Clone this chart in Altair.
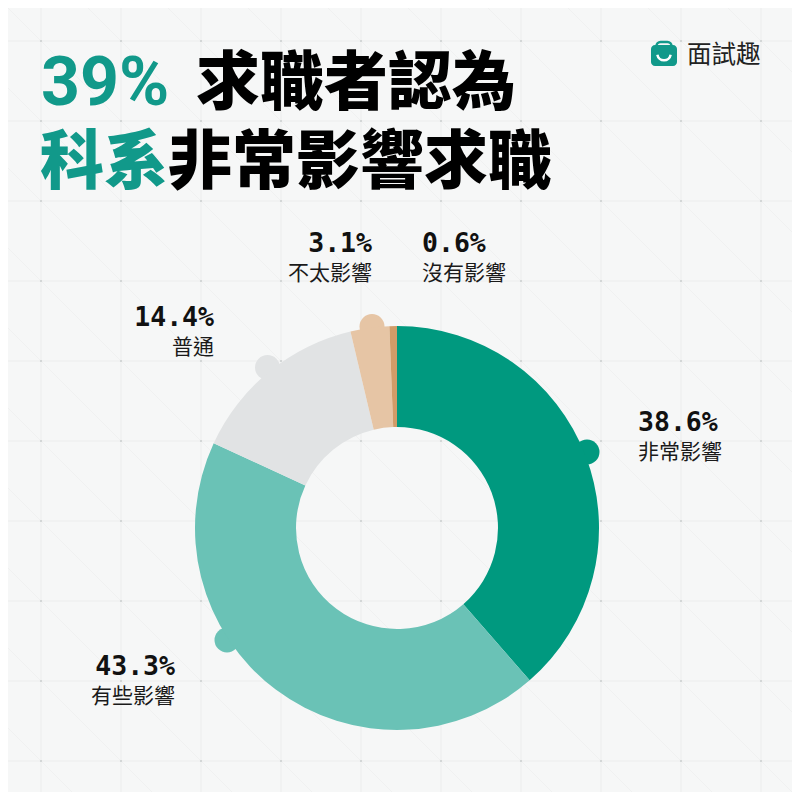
import altair as alt
import pandas as pd

categories = ["非常影響", "有些影響", "普通", "不太影響", "沒有影響"]
values = [38.6, 43.3, 14.4, 3.1, 0.6]
colors = ["#00997F", "#6AC2B6", "#E1E3E4", "#E6C5A5", "#D19C68"]
pct_labels = ["38.6%", "43.3%", "14.4%", "3.1%", "0.6%"]

knob_x = [587, 227, 267.5, 372]
knob_y = [452, 640, 367.5, 326.5]

pct_x = [638, 175, 214, 372, 422]
pct_y = [431, 675, 326, 252, 252]
cat_y = [459, 703, 354, 280, 280]
aligns = ["left", "right", "right", "right", "left"]

title_text = ["求職者認為", "科系", "非常影響求職"]
title_x = [196, 40, 168]
title_y = [104, 183, 183]
title_col = ["#000000", "#11998A", "#000000"]
head_text = ["39%"]
head_x = [41]
head_y = [105]

grid_pos = [41, 121, 201, 281, 361, 441, 521, 601, 681, 761]
diag_off = [-720, -640, -560, -480, -400, -320, -240, -160, -80, 0,
            80, 160, 240, 320, 400, 480, 560, 640, 720]

BG = "#F6F7F7"
SIZE = 784
dom = [8, 8 + SIZE]
X = lambda f: alt.X(f, type="quantitative", scale=alt.Scale(domain=dom, range=[0, SIZE]), axis=None)
Y = lambda f: alt.Y(f, type="quantitative", scale=alt.Scale(domain=dom, range=[0, SIZE]), axis=None)

grid = pd.DataFrame({"p": grid_pos})
vlines = alt.Chart(grid).mark_rule(color="#EFF0F0", strokeWidth=1.5, clip=True).encode(
    x=X("p"), y=alt.value(0), y2=alt.value(SIZE))
hlines = alt.Chart(grid).mark_rule(color="#EFF0F0", strokeWidth=1.5, clip=True).encode(
    y=Y("p"), x=alt.value(0), x2=alt.value(SIZE))

diag = pd.DataFrame({
    "x1": [max(0, -o) for o in diag_off],
    "y1": [max(0, o) for o in diag_off],
    "x2": [min(800, 800 - o) for o in diag_off],
    "y2": [min(800, 800 + o) for o in diag_off],
})
diags = alt.Chart(diag).mark_rule(color="#F0F1F1", strokeWidth=1, clip=True).encode(
    x=X("x1"), y=Y("y1"), x2="x2:Q", y2="y2:Q")

dots = pd.DataFrame([{"x": a, "y": b} for a in grid_pos for b in grid_pos])
dot_layer = alt.Chart(dots).mark_point(filled=True, color="#CDD0D0", size=5, opacity=1).encode(
    x=X("x"), y=Y("y"))

color = alt.Color("cat:N", scale=alt.Scale(domain=categories, range=colors), legend=None)

knobs = pd.DataFrame({"cat": categories[:4], "x": knob_x, "y": knob_y})
knob_layer = alt.Chart(knobs).mark_point(filled=True, size=625, opacity=1).encode(
    x=X("x"), y=Y("y"), color=color)

slices = pd.DataFrame({"cat": categories, "v": values, "o": range(5)})
donut = alt.Chart(slices).mark_arc(outerRadius=202, innerRadius=101).encode(
    theta=alt.Theta("v:Q", stack=True, scale=alt.Scale(domain=[0, 100], range=[0, 6.28318530718])),
    order=alt.Order("o:Q"),
    color=color,
    x=alt.value(389),
    y=alt.value(520),
)

labels = pd.DataFrame({"pct": pct_labels, "cat": categories, "x": pct_x, "y": pct_y,
                       "yc": cat_y, "al": aligns})
def text_layers(align):
    d = labels[labels.al == align]
    a = alt.Chart(d).mark_text(align=align, baseline="alphabetic", font="DejaVu Sans Mono",
                               fontWeight="bold", fontSize=26.5, color="#111111").encode(
        x=X("x"), y=Y("y"), text="pct:N")
    b = alt.Chart(d).mark_text(align=align, baseline="alphabetic", font="Noto Sans CJK TC",
                               fontSize=21, color="#1A1A1A").encode(
        x=X("x"), y=Y("yc"), text="cat:N")
    return [a, b]

titles = pd.DataFrame({"t": title_text, "x": title_x, "y": title_y, "c": title_col})
title_layer = alt.Chart(titles).mark_text(align="left", baseline="alphabetic",
        font="Noto Sans CJK TC", fontWeight=900, fontSize=64).encode(
    x=X("x"), y=Y("y"), text="t:N", color=alt.Color("c:N", scale=None))
head_layer = alt.Chart(pd.DataFrame({"t": head_text, "x": head_x, "y": head_y})).mark_text(
    align="left", baseline="alphabetic", font="Roboto", fontWeight=700, fontSize=68, color="#11998A").encode(
    x=X("x"), y=Y("y"), text="t:N")

logo_body = alt.Chart(pd.DataFrame({"a": [651], "b": [677], "c": [45], "d": [66]})).mark_rect(
    color="#11998A", cornerRadius=4).encode(x=X("a"), x2="b:Q", y=Y("c"), y2="d:Q")
logo_handle = alt.Chart(pd.DataFrame({"a": [656.5], "b": [671.5], "c": [42], "d": [50]})).mark_rect(
    filled=False, stroke="#11998A", strokeWidth=2.5, cornerRadius=4).encode(
    x=X("a"), x2="b:Q", y=Y("c"), y2="d:Q")
smile = alt.Chart(pd.DataFrame({"v": [1]})).mark_arc(
    outerRadius=8, innerRadius=5.5, theta=1.75, theta2=4.53, color="#FFFFFF").encode(
    x=alt.value(656), y=alt.value(45.5))
logo_text = alt.Chart(pd.DataFrame({"t": ["面試趣"], "x": [687], "y": [63]})).mark_text(
    align="left", baseline="alphabetic", font="Noto Sans CJK TC", fontSize=24.5, color="#222222").encode(
    x=X("x"), y=Y("y"), text="t:N")

chart = alt.layer(
    vlines, hlines, diags, dot_layer, knob_layer, donut,
    *text_layers("left"), *text_layers("right"),
    head_layer, title_layer, logo_handle, logo_body, smile, logo_text,
).resolve_scale(theta="independent").properties(
    width=SIZE, height=SIZE, padding=0,
    autosize=alt.AutoSizeParams(type="none"),
    background=BG,
).configure_view(stroke=None)

chart.save("out.html", embed_options={"renderer": "svg", "actions": False})
